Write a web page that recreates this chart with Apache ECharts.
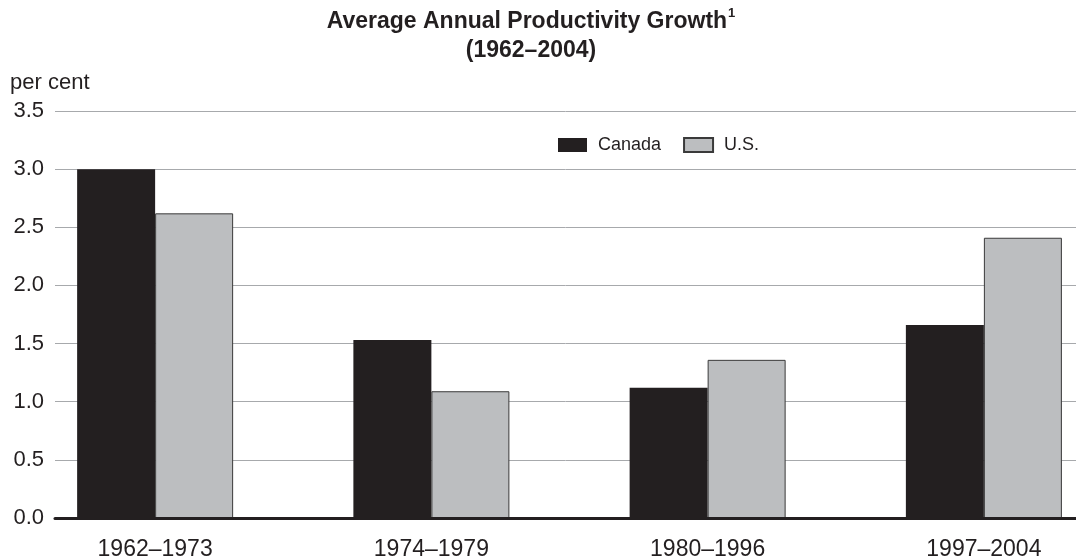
<!DOCTYPE html>
<html>
<head>
<meta charset="utf-8">
<script src="https://cdn.jsdelivr.net/npm/echarts@6/dist/echarts.min.js"></script>
<style>
  html, body { margin: 0; padding: 0; background: #fff; }
  #chart { width: 1076px; height: 560px; }
</style>
</head>
<body>
<div id="chart"></div>
<script>
const categories = ["1962–1973", "1974–1979", "1980–1996", "1997–2004"];
const canada = [3.0, 1.53, 1.12, 1.66];
const us = [2.62, 1.09, 1.36, 2.41];
const yMin = 0, yMax = 3.5, yStep = 0.5;

const font = "Liberation Sans, Arial, sans-serif";
const ink = "#231f20";

const chart = echarts.init(document.getElementById("chart"));
chart.setOption({
  animation: false,
  title: [
    {
      text: "{a|Average Annual Productivity Growth}{b|1}\n{a|(1962–2004)}",
      left: 531, top: 7, padding: 0, textAlign: "center",
      textStyle: {
        rich: {
          a: { fontFamily: font, fontSize: 23, fontWeight: "bold", color: ink, lineHeight: 29 },
          b: { fontFamily: font, fontSize: 13, color: ink, lineHeight: 29, verticalAlign: "top", padding: [0, 0, 0, 1] },
        },
      },
    },
    { text: "per cent", left: 10, top: 72, padding: 0, textStyle: { fontFamily: font, fontSize: 22, fontWeight: "normal", color: ink } },
  ],
  legend: {
    data: ["Canada", "U.S."],
    left: 558, top: 136, padding: 0,
    icon: "rect", itemWidth: 29, itemHeight: 14, itemGap: 22,
    textStyle: { fontFamily: font, fontSize: 18, color: ink, padding: [0, 0, 0, 6] },
  },
  grid: [
    { left: 55, right: 0, top: 111, bottom: 42 },
    // bar grid is wider than the page so the groups sit where the original put them
    { left: 17, width: 1105, top: 111, bottom: 42, outerBoundsMode: "none" },
  ],
  xAxis: [
    {
      gridIndex: 0, type: "category", data: categories, z: 5,
      axisLine: { lineStyle: { color: ink, width: 3 } },
      axisTick: { show: false }, axisLabel: { show: false },
    },
    {
      gridIndex: 1, type: "category", data: categories,
      axisLine: { show: false }, axisTick: { show: false },
      axisLabel: { fontFamily: font, fontSize: 23, color: ink, margin: 20 },
    },
  ],
  yAxis: [
    {
      gridIndex: 0, type: "value", min: yMin, max: yMax, interval: yStep,
      axisLine: { show: false }, axisTick: { show: false },
      axisLabel: { fontFamily: font, fontSize: 22, color: ink, margin: 11, formatter: v => v.toFixed(1) },
      splitLine: { lineStyle: { color: "#a7a9ac", width: 1 } },
    },
    { gridIndex: 1, type: "value", min: yMin, max: yMax, interval: yStep, show: false, splitLine: { show: false } },
  ],
  series: [
    {
      name: "Canada", type: "bar", xAxisIndex: 1, yAxisIndex: 1, data: canada,
      barWidth: 78, barGap: "0%",
      itemStyle: { color: ink },
    },
    {
      name: "U.S.", type: "bar", xAxisIndex: 1, yAxisIndex: 1, data: us,
      barWidth: 78, barGap: "0%",
      itemStyle: { color: "#bcbec0", borderColor: "#3a3a3a", borderWidth: 1 },
    },
  ],
});
</script>
</body>
</html>
